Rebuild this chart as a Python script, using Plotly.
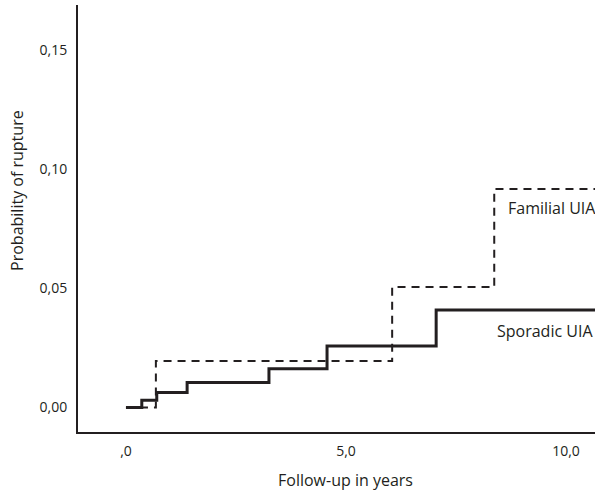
import plotly.graph_objects as go

# Data
sporadic_x = [0, 0.36, 0.70, 1.39, 3.25, 4.57, 7.05, 10.8]
sporadic_y = [0, 0.0030, 0.0063, 0.0105, 0.0163, 0.0258, 0.0410, 0.0410]
familial_x = [0, 0.68, 6.05, 8.37, 10.8]
familial_y = [0, 0.0195, 0.0506, 0.0918, 0.0918]

x_tickvals = [0, 5, 10]
x_ticktext = [",0", "5,0", "10,0"]
y_tickvals = [0, 0.05, 0.10, 0.15]
y_ticktext = ["0,00", "0,05", "0,10", "0,15"]

FONT = "Open Sans"
INK = "#231f20"

fig = go.Figure()
fig.add_trace(go.Scatter(x=familial_x, y=familial_y, mode="lines",
                         line=dict(shape="hv", color=INK, width=2, dash="8px,6px"),
                         showlegend=False))
fig.add_trace(go.Scatter(x=sporadic_x, y=sporadic_y, mode="lines",
                         line=dict(shape="hv", color=INK, width=3),
                         showlegend=False))

fig.add_annotation(x=1.005, xref="paper", y=0.0838, yref="y", yanchor="middle",
                   text="Familial UIA", showarrow=False, xanchor="right",
                   font=dict(family=FONT, size=16, color=INK))
fig.add_annotation(x=1.0, xref="paper", y=0.0321, yref="y", yanchor="middle",
                   text="Sporadic UIA", showarrow=False, xanchor="right",
                   font=dict(family=FONT, size=16, color=INK))

fig.add_annotation(x=5, xref="x", y=-0.112, yref="paper", yanchor="middle",
                   xanchor="center",
                   text="Follow-up in years", showarrow=False,
                   font=dict(family=FONT, size=16, color=INK))
fig.add_annotation(x=-0.118, xref="paper", y=0.0914, yref="y", textangle=-90,
                   xanchor="center", yanchor="middle",
                   text="Probability of rupture", showarrow=False,
                   font=dict(family=FONT, size=16, color=INK))

fig.update_xaxes(range=[-1.09, 10.66], tickvals=x_tickvals, ticktext=x_ticktext,
                 showline=True, linecolor=INK, linewidth=2, showgrid=False,
                 zeroline=False, ticks="", ticklabelstandoff=5,
                 tickfont=dict(family=FONT, size=14, color=INK))
fig.update_yaxes(range=[-0.0103, 0.1691], tickvals=y_tickvals, ticktext=y_ticktext,
                 showline=True, linecolor=INK, linewidth=2, showgrid=False,
                 zeroline=False, ticks="", ticklabelstandoff=6,
                 tickfont=dict(family=FONT, size=14, color=INK))

fig.update_layout(width=595, height=491, margin=dict(l=78, r=0, t=5, b=59),
                  paper_bgcolor="white", plot_bgcolor="white",
                  font=dict(family=FONT, size=14, color=INK))

fig.write_html("out.html")
